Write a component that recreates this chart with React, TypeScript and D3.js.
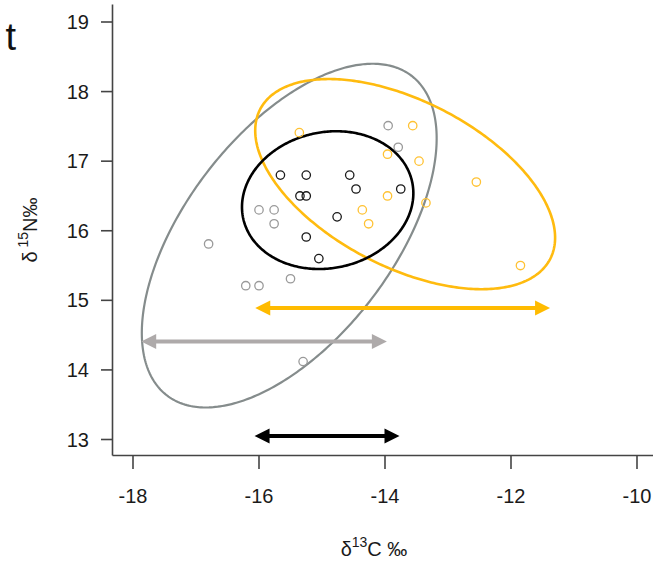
import React from "react";
import * as d3 from "d3";

// ---- data ----
const blackX = [-15.66, -15.25, -14.56, -15.35, -15.25, -14.46, -13.75, -14.76, -15.25, -15.05];
const blackY = [16.8, 16.8, 16.8, 16.5, 16.5, 16.6, 16.6, 16.2, 15.91, 15.6];

const grayX = [-16.0, -15.76, -15.76, -13.95, -13.79, -15.5, -16.8, -16.21, -16.0, -15.3];
const grayY = [16.3, 16.3, 16.1, 17.51, 17.2, 15.31, 15.81, 15.21, 15.21, 14.12];

const orangeX = [-15.36, -13.56, -13.96, -13.46, -13.96, -14.36, -14.26, -13.35, -12.55, -11.85];
const orangeY = [17.41, 17.51, 17.1, 17.0, 16.5, 16.3, 16.1, 16.4, 16.7, 15.5];

// ellipses: centre x, centre y, x half-range, y half-range, correlation
const ellipseNames = ["gray", "orange", "black"];
const ellipseCx = [-15.52, -13.68, -14.91];
const ellipseCy = [15.93, 16.67, 16.44];
const ellipseRx = [2.34, 2.38, 1.36];
const ellipseRy = [2.47, 1.51, 0.99];
const ellipseRho = [0.566, -0.51, 0.1];

// ranges (double arrows)
const rangeNames = ["orange", "gray", "black"];
const rangeMin = [-16.06, -17.87, -16.07];
const rangeMax = [-11.38, -13.97, -13.77];
const rangeY = [14.89, 14.41, 13.05];

const xTicks = [-18, -16, -14, -12, -10];
const yTicks = [13, 14, 15, 16, 17, 18, 19];

const W = 653;
const H = 566;

const ellipseColor: Record<string, string> = { gray: "#858c8c", orange: "#ffbb0f", black: "#000000" };
const ellipseWidth: Record<string, number> = { gray: 2.2, orange: 2.6, black: 2.6 };
const rangeColor: Record<string, string> = { orange: "#ffbb00", gray: "#aeaaaa", black: "#000000" };

export default function App() {
  const x = d3.scaleLinear().domain([-18, -10]).range([133, 637]);
  const y = d3.scaleLinear().domain([13, 19]).range([439.5, 22]);

  const axisX0 = 112.5;
  const axisY0 = 455.5;
  const font = "'Liberation Sans', Arial, sans-serif";

  const line = d3
    .line<[number, number]>()
    .x((d) => x(d[0]))
    .y((d) => y(d[1]))
    .curve(d3.curveLinearClosed);

  const ellipsePaths = ellipseNames.map((name, i) => {
    const delta = Math.asin(ellipseRho[i]);
    const pts: [number, number][] = d3.range(0, 360, 1).map((deg) => {
      const t = (deg * Math.PI) / 180;
      return [
        ellipseCx[i] + ellipseRx[i] * Math.cos(t),
        ellipseCy[i] + ellipseRy[i] * Math.sin(t + delta),
      ];
    });
    return { name, d: line(pts) || "" };
  });

  const points = (xs: number[], ys: number[], color: string, key: string) =>
    xs.map((v, i) => (
      <circle
        key={key + i}
        cx={x(v)}
        cy={y(ys[i])}
        r={4.2}
        fill="none"
        stroke={color}
        strokeWidth={1.3}
      />
    ));

  const headLen = 15;
  const headHalf = 7.5;

  return (
    <svg
      width={W}
      height={H}
      style={{ position: "absolute", left: 0, top: 0, background: "#fff" }}
    >
      <rect width={W} height={H} fill="#fff" />
      {/* panel letter */}
      <text x={16} y={50} fontFamily={font} fontSize={38} fill="#111" textAnchor="end">
        t
      </text>

      {/* axes */}
      <line x1={axisX0} x2={axisX0} y1={4.5} y2={axisY0} stroke="#444" strokeWidth={1.6} />
      <line x1={axisX0} x2={W} y1={axisY0} y2={axisY0} stroke="#444" strokeWidth={1.6} />
      {yTicks.map((t) => (
        <g key={"yt" + t}>
          <line x1={101} x2={axisX0} y1={y(t)} y2={y(t)} stroke="#444" strokeWidth={1.6} />
          <text
            x={89}
            y={y(t)}
            dy="0.35em"
            textAnchor="end"
            fontFamily={font}
            fontSize={20}
            fill="#1a1a1a"
          >
            {t}
          </text>
        </g>
      ))}
      {xTicks.map((t) => (
        <g key={"xt" + t}>
          <line x1={x(t)} x2={x(t)} y1={axisY0} y2={469} stroke="#444" strokeWidth={1.6} />
          <text
            x={x(t)}
            y={503}
            textAnchor="middle"
            fontFamily={font}
            fontSize={20}
            fill="#1a1a1a"
          >
            {t}
          </text>
        </g>
      ))}

      {/* axis titles */}
      <text x={374} y={556} textAnchor="middle" fontFamily={font} fontSize={20} fill="#1a1a1a">
        δ<tspan fontSize={14} dy={-9}>13</tspan>
        <tspan dy={9}>C ‰</tspan>
      </text>
      <text
        transform={`translate(37,230) rotate(-90)`}
        textAnchor="middle"
        fontFamily={font}
        fontSize={20}
        fill="#1a1a1a"
      >
        δ<tspan fontSize={14} dy={-9}> 15</tspan>
        <tspan dy={9}>N‰</tspan>
      </text>

      {/* ellipses */}
      {ellipsePaths.map((e) => (
        <path
          key={e.name}
          d={e.d}
          fill="none"
          stroke={ellipseColor[e.name]}
          strokeWidth={ellipseWidth[e.name]}
        />
      ))}

      {/* points */}
      {points(grayX, grayY, "#9a9a9a", "g")}
      {points(orangeX, orangeY, "#ffc233", "o")}
      {points(blackX, blackY, "#1a1a1a", "b")}

      {/* range arrows */}
      {rangeNames.map((name, i) => {
        const x1 = x(rangeMin[i]);
        const x2 = x(rangeMax[i]);
        const yy = y(rangeY[i]);
        const c = rangeColor[name];
        return (
          <g key={"r" + name}>
            <line x1={x1 + headLen - 1} x2={x2 - headLen + 1} y1={yy} y2={yy} stroke={c} strokeWidth={4} />
            <polygon
              points={`${x1},${yy} ${x1 + headLen},${yy - headHalf} ${x1 + headLen},${yy + headHalf}`}
              fill={c}
            />
            <polygon
              points={`${x2},${yy} ${x2 - headLen},${yy - headHalf} ${x2 - headLen},${yy + headHalf}`}
              fill={c}
            />
          </g>
        );
      })}
    </svg>
  );
}
